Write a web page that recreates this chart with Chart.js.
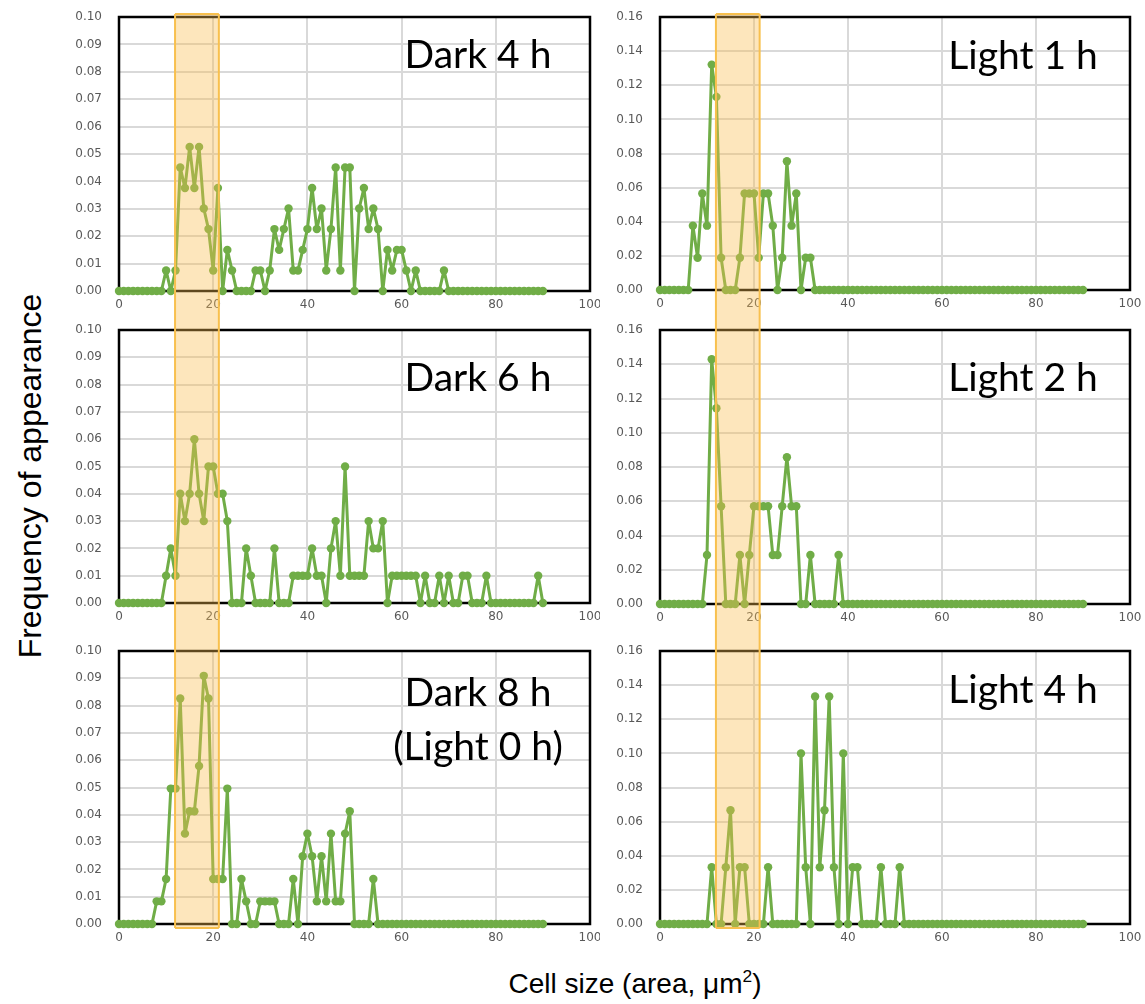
<!DOCTYPE html>
<html>
<head>
<meta charset="utf-8">
<script src="https://cdn.jsdelivr.net/npm/chart.js@4.4.1/dist/chart.umd.min.js"></script>
<style>
  body { margin: 0; background: #fff; }
  #fig { position: relative; width: 1145px; height: 1004px; background: #fff; overflow: hidden; }
  canvas { position: absolute; }
  .ytitle { position: absolute; left: 30px; top: 476px; transform: translate(-50%, -50%) rotate(-90deg);
            font: 32px "Liberation Sans", Arial, sans-serif; white-space: nowrap; color: #000; }
  .xtitle { position: absolute; left: 635px; top: 984px; transform: translate(-50%, -50%);
            font: 28px "Liberation Sans", Arial, sans-serif; white-space: nowrap; color: #000; }
  sup { font-size: 0.62em; vertical-align: 0.62em; line-height: 0; }
</style>
</head>
<body>
<div id="fig">
  <canvas id="c0" width="540" height="315" style="left:60px;top:0px"></canvas>
  <canvas id="c1" width="545" height="315" style="left:600px;top:0px"></canvas>
  <canvas id="c2" width="540" height="320" style="left:60px;top:315px"></canvas>
  <canvas id="c3" width="545" height="320" style="left:600px;top:315px"></canvas>
  <canvas id="c4" width="540" height="315" style="left:60px;top:635px"></canvas>
  <canvas id="c5" width="545" height="315" style="left:600px;top:635px"></canvas>
  <div class="ytitle">Frequency of appearance</div>
  <div class="xtitle">Cell size (area, μm<sup>2</sup>)</div>
</div>
<script>
// cell size bins (µm²)
const sizes = [
  0, 1, 2, 3, 4, 5, 6, 7, 8, 9,
  10, 11, 12, 13, 14, 15, 16, 17, 18, 19,
  20, 21, 22, 23, 24, 25, 26, 27, 28, 29,
  30, 31, 32, 33, 34, 35, 36, 37, 38, 39,
  40, 41, 42, 43, 44, 45, 46, 47, 48, 49,
  50, 51, 52, 53, 54, 55, 56, 57, 58, 59,
  60, 61, 62, 63, 64, 65, 66, 67, 68, 69,
  70, 71, 72, 73, 74, 75, 76, 77, 78, 79,
  80, 81, 82, 83, 84, 85, 86, 87, 88, 89,
  90
];

const dark4h = [
  0, 0, 0, 0, 0, 0, 0, 0, 0, 0,
  0.0075, 0, 0.0075, 0.0451, 0.0376, 0.0526, 0.0376, 0.0526, 0.0301, 0.0226,
  0.0075, 0.0376, 0, 0.015, 0.0075, 0, 0, 0, 0, 0.0075,
  0.0075, 0, 0.0075, 0.0226, 0.015, 0.0226, 0.0301, 0.0075, 0.0075, 0.015,
  0.0226, 0.0376, 0.0226, 0.0301, 0.0075, 0.0226, 0.0451, 0.0075, 0.0451, 0.0451,
  0, 0.0301, 0.0376, 0.0226, 0.0301, 0.0226, 0, 0.015, 0.0075, 0.015,
  0.015, 0.0075, 0, 0.0075, 0, 0, 0, 0, 0, 0.0075,
  0, 0, 0, 0, 0, 0, 0, 0, 0, 0,
  0, 0, 0, 0, 0, 0, 0, 0, 0, 0,
  0
];

const dark6h = [
  0, 0, 0, 0, 0, 0, 0, 0, 0, 0,
  0.01, 0.02, 0.01, 0.04, 0.03, 0.04, 0.06, 0.04, 0.03, 0.05,
  0.05, 0.04, 0.04, 0.03, 0, 0, 0, 0.02, 0.01, 0,
  0, 0, 0, 0.02, 0, 0, 0, 0.01, 0.01, 0.01,
  0.01, 0.02, 0.01, 0.01, 0, 0.02, 0.03, 0.01, 0.05, 0.01,
  0.01, 0.01, 0.01, 0.03, 0.02, 0.02, 0.03, 0, 0.01, 0.01,
  0.01, 0.01, 0.01, 0.01, 0, 0.01, 0, 0, 0.01, 0,
  0.01, 0, 0, 0.01, 0.01, 0, 0, 0, 0.01, 0,
  0, 0, 0, 0, 0, 0, 0, 0, 0, 0.01,
  0
];

const dark8h = [
  0, 0, 0, 0, 0, 0, 0, 0, 0.0083, 0.0083,
  0.0165, 0.0496, 0.0496, 0.0826, 0.0331, 0.0413, 0.0413, 0.0579, 0.0909, 0.0826,
  0.0165, 0.0165, 0.0165, 0.0496, 0, 0, 0.0165, 0.0083, 0, 0,
  0.0083, 0.0083, 0.0083, 0.0083, 0, 0, 0, 0.0165, 0, 0.0248,
  0.0331, 0.0248, 0.0083, 0.0248, 0.0083, 0.0331, 0.0083, 0.0083, 0.0331, 0.0413,
  0, 0, 0, 0, 0.0165, 0, 0, 0, 0, 0,
  0, 0, 0, 0, 0, 0, 0, 0, 0, 0,
  0, 0, 0, 0, 0, 0, 0, 0, 0, 0,
  0, 0, 0, 0, 0, 0, 0, 0, 0, 0,
  0
];

const light1h = [
  0, 0, 0, 0, 0, 0, 0, 0.0377, 0.0189, 0.0566,
  0.0377, 0.1321, 0.1132, 0.0189, 0, 0, 0, 0.0189, 0.0566, 0.0566,
  0.0566, 0.0189, 0.0566, 0.0566, 0.0377, 0, 0.0189, 0.0755, 0.0377, 0.0566,
  0, 0.0189, 0.0189, 0, 0, 0, 0, 0, 0, 0,
  0, 0, 0, 0, 0, 0, 0, 0, 0, 0,
  0, 0, 0, 0, 0, 0, 0, 0, 0, 0,
  0, 0, 0, 0, 0, 0, 0, 0, 0, 0,
  0, 0, 0, 0, 0, 0, 0, 0, 0, 0,
  0, 0, 0, 0, 0, 0, 0, 0, 0, 0,
  0
];

const light2h = [
  0, 0, 0, 0, 0, 0, 0, 0, 0, 0,
  0.0286, 0.1429, 0.1143, 0.0571, 0, 0, 0, 0.0286, 0, 0.0286,
  0.0571, 0.0571, 0.0571, 0.0571, 0.0286, 0.0286, 0.0571, 0.0857, 0.0571, 0.0571,
  0, 0, 0.0286, 0, 0, 0, 0, 0, 0.0286, 0,
  0, 0, 0, 0, 0, 0, 0, 0, 0, 0,
  0, 0, 0, 0, 0, 0, 0, 0, 0, 0,
  0, 0, 0, 0, 0, 0, 0, 0, 0, 0,
  0, 0, 0, 0, 0, 0, 0, 0, 0, 0,
  0, 0, 0, 0, 0, 0, 0, 0, 0, 0,
  0
];

const light4h = [
  0, 0, 0, 0, 0, 0, 0, 0, 0, 0,
  0, 0.0333, 0, 0, 0.0333, 0.0667, 0, 0.0333, 0.0333, 0,
  0, 0, 0, 0.0333, 0, 0, 0, 0, 0, 0,
  0.1, 0.0333, 0, 0.1333, 0.0333, 0.0667, 0.1333, 0.0333, 0, 0.1,
  0, 0.0333, 0.0333, 0, 0, 0, 0, 0.0333, 0, 0,
  0, 0.0333, 0, 0, 0, 0, 0, 0, 0, 0,
  0, 0, 0, 0, 0, 0, 0, 0, 0, 0,
  0, 0, 0, 0, 0, 0, 0, 0, 0, 0,
  0, 0, 0, 0, 0, 0, 0, 0, 0, 0,
  0
];

const xTicks = [0, 20, 40, 60, 80, 100];
const darkTicks = [0, 0.01, 0.02, 0.03, 0.04, 0.05, 0.06, 0.07, 0.08, 0.09, 0.10];
const lightTicks = [0, 0.02, 0.04, 0.06, 0.08, 0.10, 0.12, 0.14, 0.16];
const highlight = [11.9, 21.2];   // shaded size range

// panel decorations: plot frame, shaded range, panel caption
const panelDecor = {
  id: 'panelDecor',
  beforeDatasetsDraw(chart, args, o) {
    const a = chart.chartArea, ctx = chart.ctx;
    ctx.save();
    ctx.strokeStyle = '#000';
    ctx.lineWidth = 2.5;
    ctx.strokeRect(a.left, a.top, a.right - a.left, a.bottom - a.top);
    ctx.restore();
  },
  afterDraw(chart, args, o) {
    const a = chart.chartArea, ctx = chart.ctx, xs = chart.scales.x;
    const x1 = xs.getPixelForValue(o.band[0]);
    const x2 = xs.getPixelForValue(o.band[1]);
    const top = o.row === 0 ? a.top - 3 : 0;
    const bot = o.row === 2 ? a.bottom + 4 : chart.height;
    ctx.save();
    ctx.fillStyle = 'rgba(250, 188, 78, 0.38)';
    ctx.fillRect(x1, top, x2 - x1, bot - top);
    ctx.strokeStyle = '#f8c04e';
    ctx.lineWidth = 2;
    ctx.beginPath();
    ctx.moveTo(x1, top); ctx.lineTo(x1, bot);
    ctx.moveTo(x2, top); ctx.lineTo(x2, bot);
    if (o.row === 0) { ctx.moveTo(x1, top); ctx.lineTo(x2, top); }
    if (o.row === 2) { ctx.moveTo(x1, bot); ctx.lineTo(x2, bot); }
    ctx.stroke();

    ctx.fillStyle = '#000';
    ctx.font = '39px Lato, "Open Sans", sans-serif';
    ctx.textAlign = 'center';
    ctx.textBaseline = 'middle';
    o.label.forEach((t, i) => ctx.fillText(t, o.lx, o.ly[i]));
    ctx.restore();
  }
};

// canvas offsets in the figure, used only to place captions
const panels = [
  { id: 'c0', values: dark4h,  ticks: darkTicks,  row: 0, left: 60,  top: 0,   padTop: 17, xh: 24, yw: 59, padRight: 10, label: ['Dark 4 h'], lx: 478, ly: [55] },
  { id: 'c1', values: light1h, ticks: lightTicks, row: 0, left: 600, top: 0,   padTop: 17, xh: 25, yw: 60, padRight: 15, label: ['Light 1 h'], lx: 1023, ly: [56] },
  { id: 'c2', values: dark6h,  ticks: darkTicks,  row: 1, left: 60,  top: 315, padTop: 15, xh: 32, yw: 59, padRight: 10, label: ['Dark 6 h'], lx: 478, ly: [378] },
  { id: 'c3', values: light2h, ticks: lightTicks, row: 1, left: 600, top: 315, padTop: 15, xh: 31, yw: 60, padRight: 15, label: ['Light 2 h'], lx: 1023, ly: [378] },
  { id: 'c4', values: dark8h,  ticks: darkTicks,  row: 2, left: 60,  top: 635, padTop: 16, xh: 26, yw: 59, padRight: 10, label: ['Dark 8 h', '(Light 0 h)'], lx: 478, ly: [693, 747] },
  { id: 'c5', values: light4h, ticks: lightTicks, row: 2, left: 600, top: 635, padTop: 16, xh: 26, yw: 60, padRight: 15, label: ['Light 4 h'], lx: 1023, ly: [690] }
];

const tickFont = { family: '"DejaVu Sans", sans-serif', size: 12 };
const noPad = s => { s.paddingLeft = 0; s.paddingRight = 0; s.paddingTop = 0; s.paddingBottom = 0; };

panels.forEach(p => {
  const ctx = document.getElementById(p.id).getContext('2d');
  new Chart(ctx, {
    type: 'line',
    data: {
      datasets: [{
        data: sizes.map((s, i) => ({ x: s, y: p.values[i] })),
        borderColor: '#70ad47',
        backgroundColor: '#70ad47',
        borderWidth: 3,
        borderJoinStyle: 'round',
        pointRadius: 4.2,
        pointBorderWidth: 0,
        tension: 0,
        clip: false
      }]
    },
    options: {
      responsive: false,
      animation: false,
      devicePixelRatio: 1,
      layout: { padding: { top: p.padTop, right: p.padRight, left: 0, bottom: 0 } },
      plugins: {
        legend: { display: false },
        tooltip: { enabled: false },
        panelDecor: {
          band: highlight, row: p.row, label: p.label,
          lx: p.lx - p.left, ly: p.ly.map(v => v - p.top)
        }
      },
      scales: {
        x: {
          type: 'linear', min: 0, max: 100,
          afterBuildTicks: s => { s.ticks = xTicks.map(v => ({ value: v })); },
          afterFit: s => { s.height = p.xh; noPad(s); },
          ticks: { color: '#595959', font: tickFont, padding: 7, maxRotation: 0, autoSkip: false },
          grid: { color: '#d9d9d9', lineWidth: 2, drawTicks: false },
          border: { display: false }
        },
        y: {
          min: 0, max: p.ticks[p.ticks.length - 1],
          afterBuildTicks: s => { s.ticks = p.ticks.map(v => ({ value: v })); },
          afterFit: s => { s.width = p.yw; noPad(s); },
          ticks: { color: '#595959', font: tickFont, padding: 17, autoSkip: false,
                   callback: v => v.toFixed(2) },
          grid: { color: '#d9d9d9', lineWidth: 2, drawTicks: false },
          border: { display: false }
        }
      }
    },
    plugins: [panelDecor]
  });
});
</script>
</body>
</html>
